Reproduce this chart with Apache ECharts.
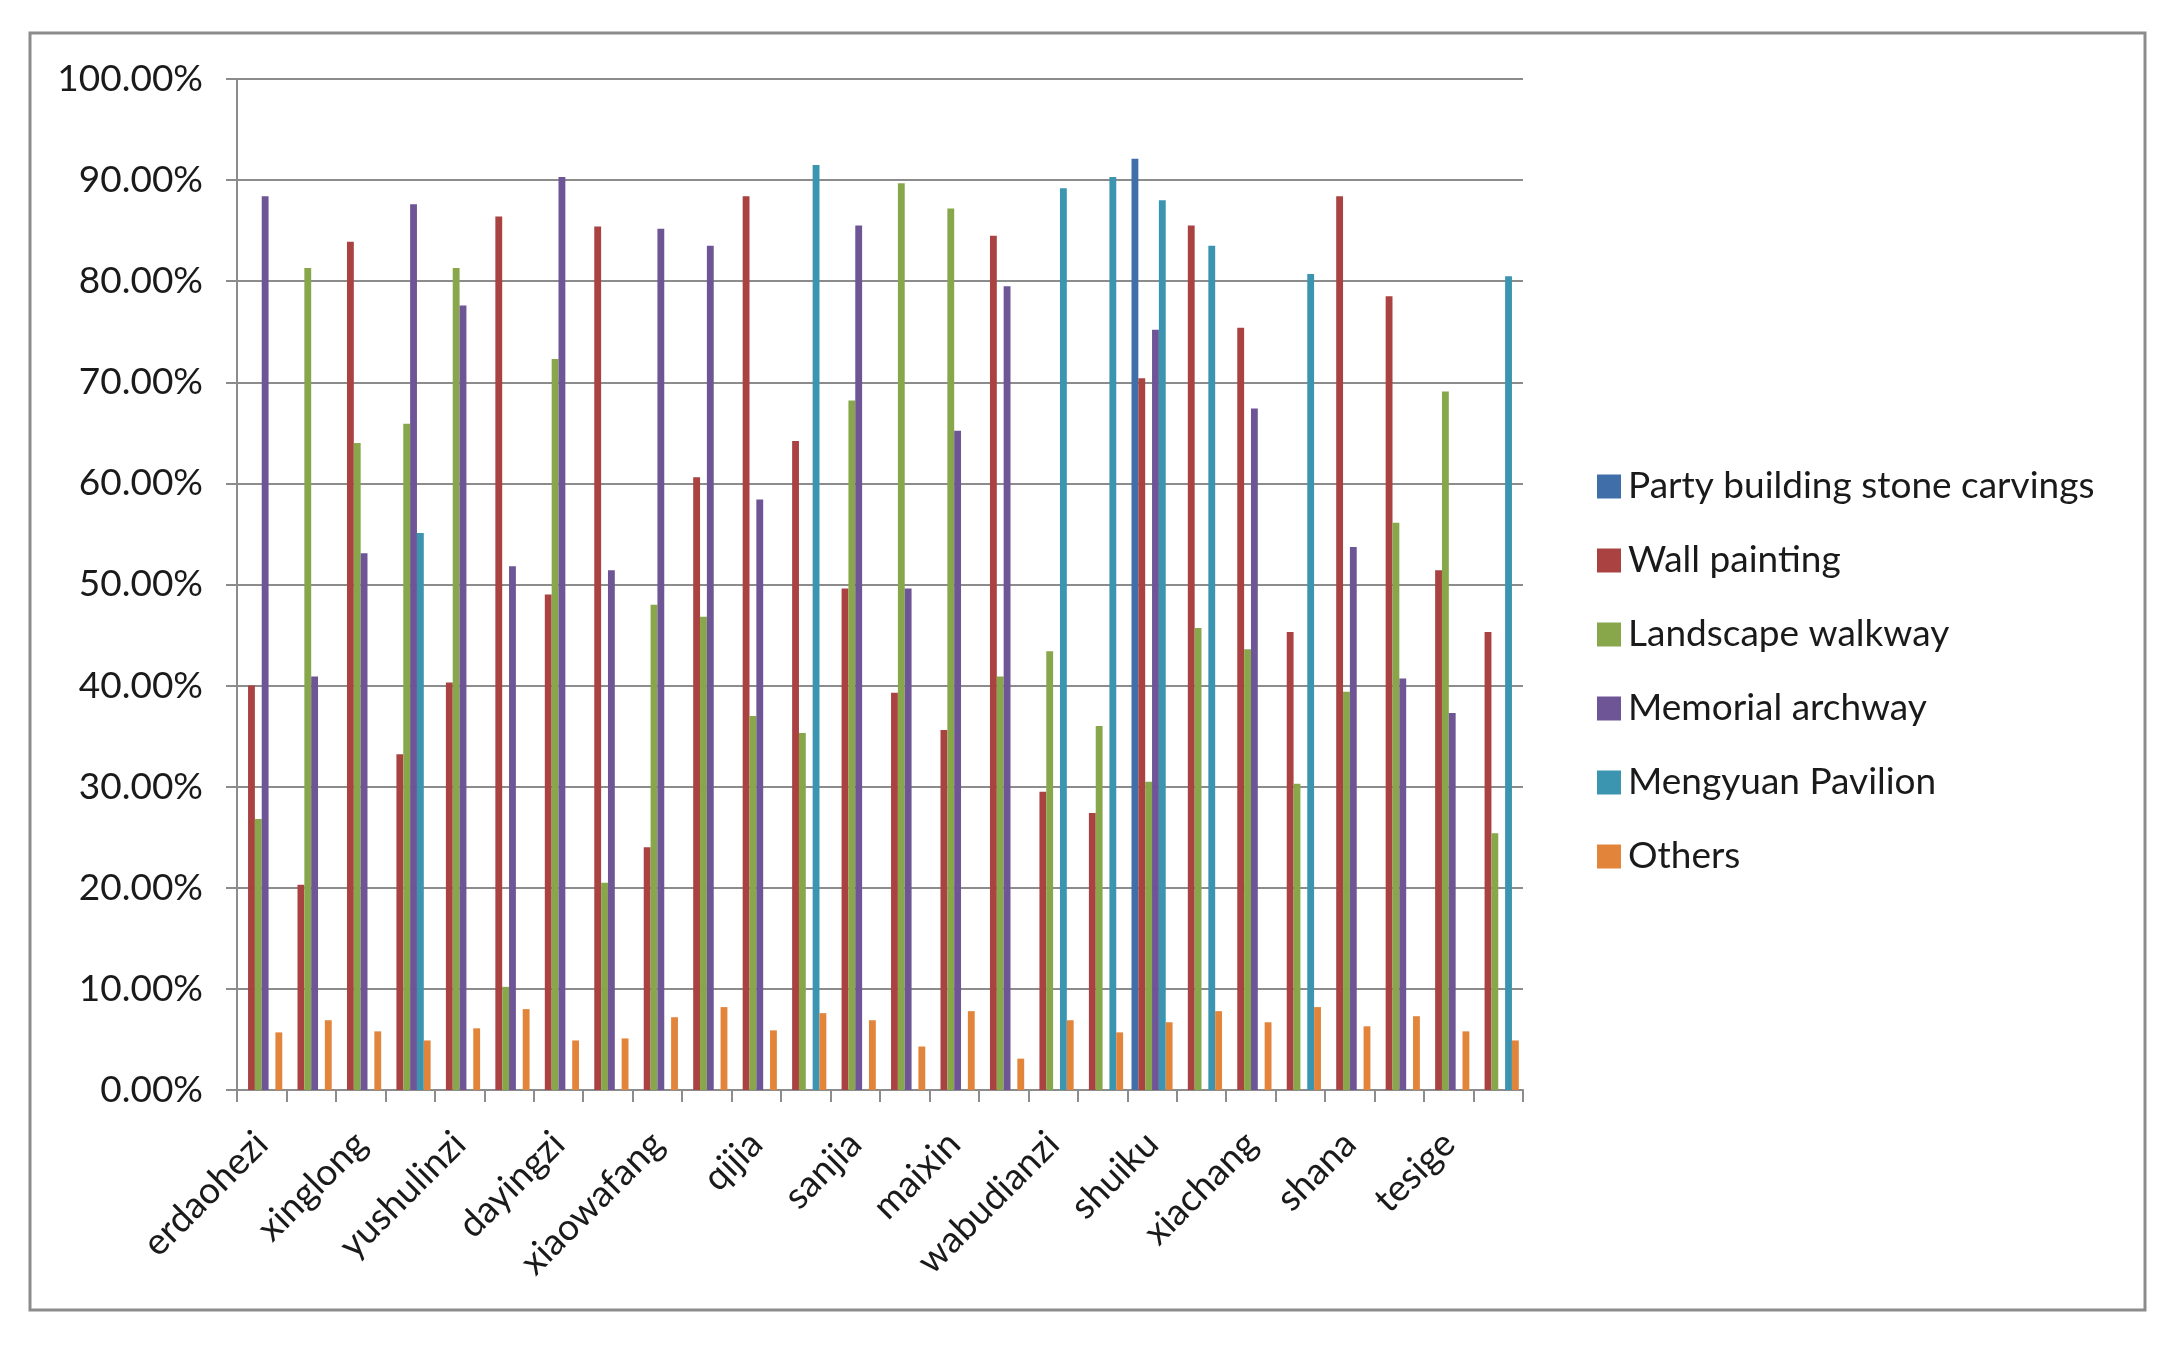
<!DOCTYPE html>
<html>
<head>
<meta charset="utf-8">
<script src="https://cdn.jsdelivr.net/npm/echarts@6/dist/echarts.min.js"></script>
<style>
  html, body { margin: 0; padding: 0; background: #ffffff; }
  #chart { width: 2180px; height: 1349px; }
</style>
</head>
<body>
<div id="chart"></div>
<script>
// 26 villages; only every other name is printed under the axis
const categories = [
  "erdaohezi", "", "xinglong", "", "yushulinzi", "", "dayingzi", "",
  "xiaowafang", "", "qijia", "", "sanjia", "", "maixin", "",
  "wabudianzi", "", "shuiku", "", "xiachang", "", "shana", "",
  "tesige", ""
];

const seriesNames = [
  "Party building stone carvings",
  "Wall painting",
  "Landscape walkway",
  "Memorial archway",
  "Mengyuan Pavilion",
  "Others"
];

// values in percent
const stoneCarvings = [0, 0, 0, 0, 0, 0, 0, 0, 0, 0, 0, 0, 0, 0, 0, 0, 0, 0, 92.1, 0, 0, 0, 0, 0, 0, 0];
const wallPainting = [40.0, 20.3, 83.9, 33.2, 40.3, 86.4, 49.0, 85.4, 24.0, 60.6, 88.4, 64.2, 49.6,
  39.3, 35.6, 84.5, 29.5, 27.4, 70.4, 85.5, 75.4, 45.3, 88.4, 78.5, 51.4, 45.3];
const landscapeWalkway = [26.8, 81.3, 64.0, 65.9, 81.3, 10.2, 72.3, 20.5, 48.0, 46.8, 37.0, 35.3, 68.2,
  89.7, 87.2, 40.9, 43.4, 36.0, 30.5, 45.7, 43.6, 30.3, 39.4, 56.1, 69.1, 25.4];
const memorialArchway = [88.4, 40.9, 53.1, 87.6, 77.6, 51.8, 90.3, 51.4, 85.2, 83.5, 58.4, 0, 85.5,
  49.6, 65.2, 79.5, 0, 0, 75.2, 0, 67.4, 0, 53.7, 40.7, 37.3, 0];
const mengyuanPavilion = [0, 0, 0, 55.1, 0, 0, 0, 0, 0, 0, 0, 91.5, 0, 0, 0, 0, 89.2, 90.3, 88.0,
  83.5, 0, 80.7, 0, 0, 0, 80.5];
const others = [5.7, 6.9, 5.8, 4.9, 6.1, 8.0, 4.9, 5.1, 7.2, 8.2, 5.9, 7.6, 6.9, 4.3, 7.8, 3.1,
  6.9, 5.7, 6.7, 7.8, 6.7, 8.2, 6.3, 7.3, 5.8, 4.9];

const seriesValues = [stoneCarvings, wallPainting, landscapeWalkway, memorialArchway, mengyuanPavilion, others];
const colors = ["#3f6ea9", "#a94241", "#88a74b", "#6e5595", "#3b95b0", "#e2853a"];

const FONT = "Lato, 'Open Sans', sans-serif";
const TEXT_SIZE = 37;
const AXIS_GRAY = "#8c8c8c";

const chart = echarts.init(document.getElementById("chart"));

chart.setOption({
  animation: false,
  backgroundColor: "#ffffff",
  textStyle: { fontFamily: FONT },
  color: colors,
  graphic: [
    {
      type: "rect",
      shape: { x: 30, y: 33, width: 2115, height: 1277 },
      style: { fill: "none", stroke: AXIS_GRAY, lineWidth: 3 },
      silent: true
    }
  ],
  legend: {
    orient: "vertical",
    left: 1592,
    top: 463,
    itemWidth: 24,
    itemHeight: 24,
    itemGap: 37,
    icon: "rect",
    textStyle: {
      fontFamily: FONT,
      fontSize: TEXT_SIZE,
      color: "#1a1a1a",
      padding: [0, 0, 0, 2]
    },
    data: seriesNames
  },
  grid: {
    left: 237,
    top: 79,
    width: 1286,
    height: 1011
  },
  xAxis: {
    type: "category",
    data: categories,
    axisLine: { show: true, lineStyle: { color: AXIS_GRAY, width: 2 } },
    axisTick: { show: true, interval: 0, length: 12, lineStyle: { color: AXIS_GRAY, width: 2 } },
    axisLabel: {
      interval: 0,
      rotate: 45,
      margin: 48,
      fontFamily: FONT,
      fontSize: TEXT_SIZE,
      color: "#1a1a1a"
    },
    splitLine: { show: false }
  },
  yAxis: {
    type: "value",
    min: 0,
    max: 100,
    interval: 10,
    axisLine: { show: true, lineStyle: { color: AXIS_GRAY, width: 2 } },
    axisTick: { show: true, length: 11, lineStyle: { color: AXIS_GRAY, width: 2 } },
    axisLabel: {
      margin: 34,
      fontFamily: FONT,
      fontSize: TEXT_SIZE,
      color: "#1a1a1a",
      formatter: v => v.toFixed(2) + "%"
    },
    splitLine: { show: true, lineStyle: { color: AXIS_GRAY, width: 2 } }
  },
  series: seriesNames.map((name, i) => ({
    name,
    type: "bar",
    data: seriesValues[i],
    barGap: "0%",
    barCategoryGap: "17%",
    itemStyle: { color: colors[i] }
  }))
});
</script>
</body>
</html>
